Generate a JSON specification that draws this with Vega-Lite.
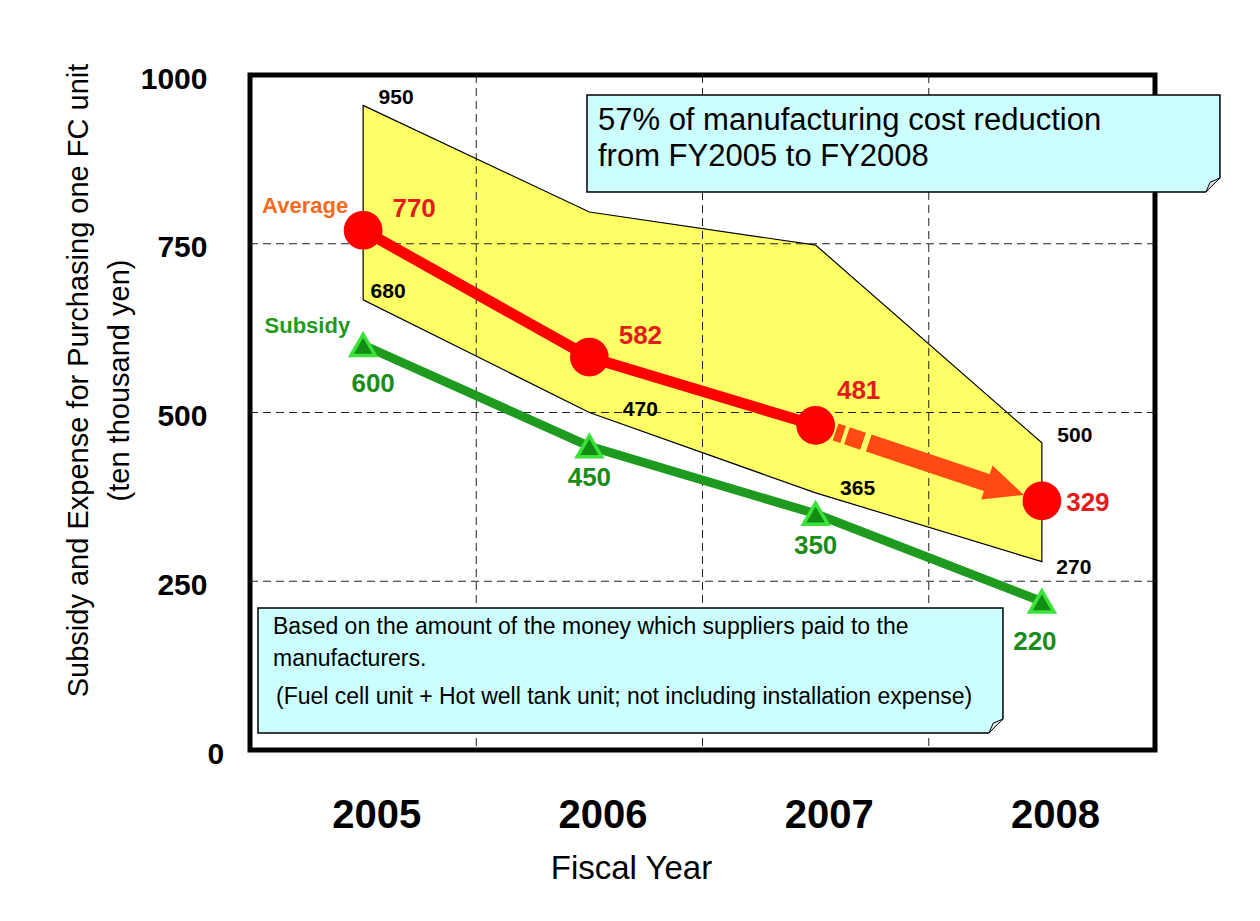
{
  "$schema": "https://vega.github.io/schema/vega-lite/v6.json",
  "width": 905,
  "height": 675,
  "autosize": {"type": "none"},
  "padding": {"left": 250, "top": 75, "right": 105, "bottom": 171},
  "background": "white",
  "config": {
    "view": {"stroke": "black", "strokeWidth": 5},
    "font": "Liberation Sans"
  },
  "data": {
    "values": [
      {"year": 2005, "avg": 770, "avg_label": "770", "sub": 600, "sub_label": "600", "hi": 955, "lo": 667, "hi_label": "950", "lo_label": "680"},
      {"year": 2006, "avg": 582, "avg_label": "582", "sub": 450, "sub_label": "450", "hi": 797, "lo": 500, "hi_label": "", "lo_label": "470"},
      {"year": 2007, "avg": 481, "avg_label": "481", "sub": 350, "sub_label": "350", "hi": 748, "lo": 381, "hi_label": "", "lo_label": "365"},
      {"year": 2008, "avg": 369, "avg_label": "329", "sub": 220, "sub_label": "220", "hi": 455, "lo": 279, "hi_label": "500", "lo_label": "270"}
    ]
  },
  "layer": [
    {
      "mark": {"type": "area", "fill": "#ffff66", "stroke": "#000000", "strokeWidth": 1.2, "opacity": 1},
      "encoding": {
        "x": {
          "field": "year", "type": "quantitative",
          "scale": {"domain": [2004.5, 2008.5], "nice": false, "zero": false},
          "axis": {
            "values": [2005, 2006, 2007, 2008], "format": "d", "title": "Fiscal Year",
            "grid": false, "domain": false, "ticks": false,
            "labelFont": "Liberation Sans",
            "labelFontSize": 40, "labelFontWeight": "bold", "labelColor": "#000000",
            "labelPadding": 65, "labelBaseline": "middle", "labelOffset": 13,
            "labelOverlap": false, "labelFlush": false,
            "titleFont": "Liberation Sans", "titleFontSize": 33, "titleFontWeight": "normal", "titleColor": "#000000",
            "titleX": 381, "titleY": 118, "titleBaseline": "middle", "titleAlign": "center"
          }
        },
        "y": {
          "field": "hi", "type": "quantitative",
          "scale": {"domain": [0, 1000], "nice": false, "zero": true},
          "axis": {
            "values": [0, 250, 500, 750, 1000], "format": "d",
            "title": ["Subsidy and Expense for Purchasing one FC unit", "(ten thousand yen)"],
            "grid": false, "domain": false, "ticks": false,
            "labelFont": "Liberation Sans", "labelFontSize": 30, "labelFontWeight": "bold", "labelColor": "#000000",
            "labelPadding": 43, "labelBaseline": "middle", "labelOffset": 4,
            "labelAlign": {"condition": {"test": "datum.value == 0", "value": "left"}, "value": "right"},
            "labelOverlap": false, "labelFlush": false,
            "titleFont": "Liberation Sans", "titleFontSize": 29, "titleFontWeight": "normal", "titleColor": "#000000",
            "titleX": -172, "titleY": 305, "titleAngle": -90, "titleAlign": "center", "titleBaseline": "middle",
            "titleLineHeight": 41
          }
        },
        "y2": {"field": "lo"}
      }
    },
    {
      "data": {"values": [{"year": 2005.5}, {"year": 2006.5}, {"year": 2007.5}]},
      "mark": {"type": "rule", "stroke": "#222222", "strokeWidth": 1, "strokeDash": [8, 5]},
      "encoding": {"x": {"field": "year", "type": "quantitative"}}
    },
    {
      "data": {"values": [{"hi": 250}, {"hi": 500}, {"hi": 750}]},
      "mark": {"type": "rule", "stroke": "#222222", "strokeWidth": 1, "strokeDash": [8, 5]},
      "encoding": {"y": {"field": "hi", "type": "quantitative"}}
    },
    {
      "data": {"values": [{}]},
      "mark": {"type": "rect", "fill": "#ccffff", "stroke": "#000000", "strokeWidth": 1.5},
      "encoding": {
        "x": {"datum": 2005.9895, "type": "quantitative"},
        "x2": {"datum": 2008.787},
        "y": {"datum": 970.37, "type": "quantitative"},
        "y2": {"datum": 826.67}
      }
    },
    {
      "data": {"values": [{}]},
      "mark": {"type": "rect", "fill": "#ccffff", "stroke": "#000000", "strokeWidth": 1.5},
      "encoding": {
        "x": {"datum": 2004.5354, "type": "quantitative"},
        "x2": {"datum": 2007.828},
        "y": {"datum": 210.37, "type": "quantitative"},
        "y2": {"datum": 25.19}
      }
    },
    {
      "data": {"values": [{"year": 2008.787, "hi": 826.67}, {"year": 2007.828, "hi": 25.19}]},
      "mark": {"type": "point", "shape": "M -1.15 0.2 L 0.2 -1.15 L 0.2 0.2 Z", "size": 784, "filled": true, "fill": "#ffffff", "strokeWidth": 0, "opacity": 1},
      "encoding": {
        "x": {"field": "year", "type": "quantitative"},
        "y": {"field": "hi", "type": "quantitative"}
      }
    },
    {
      "data": {"values": [{"year": 2008.787, "hi": 826.67}, {"year": 2007.828, "hi": 25.19}]},
      "mark": {"type": "point", "shape": "M -1 0 L 0 -1 L -0.7 -0.7 Z", "size": 784, "filled": false, "fill": "#e4e4e4", "stroke": "#000000", "strokeWidth": 1, "opacity": 1},
      "encoding": {
        "x": {"field": "year", "type": "quantitative"},
        "y": {"field": "hi", "type": "quantitative"}
      }
    },
    {
      "mark": {"type": "line", "stroke": "#1e9b1e", "strokeWidth": 9},
      "encoding": {
        "x": {"field": "year", "type": "quantitative"},
        "y": {"field": "sub", "type": "quantitative"}
      }
    },
    {
      "transform": [{"filter": "datum.year <= 2007"}],
      "mark": {"type": "line", "stroke": "#ff0000", "strokeWidth": 11},
      "encoding": {
        "x": {"field": "year", "type": "quantitative"},
        "y": {"field": "avg", "type": "quantitative"}
      }
    },
    {
      "transform": [{"filter": "datum.year >= 2007"}],
      "mark": {"type": "line", "stroke": "#ff4a14", "strokeWidth": 18, "strokeCap": "butt", "strokeDash": [0, 21, 8, 4, 17, 6, 125, 400]},
      "encoding": {
        "x": {"field": "year", "type": "quantitative"},
        "y": {"field": "avg", "type": "quantitative"}
      }
    },
    {
      "transform": [{"filter": "datum.year == 2008"}],
      "mark": {"type": "point", "shape": "M -1.9 0 L -5.8 -1.8 L -5.8 1.8 Z", "size": 400, "angle": 18.47, "filled": true, "fill": "#ff4a14", "strokeWidth": 0, "opacity": 1},
      "encoding": {
        "x": {"field": "year", "type": "quantitative"},
        "y": {"field": "avg", "type": "quantitative"}
      }
    },
    {
      "mark": {"type": "point", "shape": "triangle-up", "size": 600, "filled": false, "fill": "#128c12", "stroke": "#3ae23a", "strokeWidth": 3.5, "opacity": 1},
      "encoding": {
        "x": {"field": "year", "type": "quantitative"},
        "y": {"field": "sub", "type": "quantitative"}
      }
    },
    {
      "mark": {"type": "point", "shape": "circle", "size": 1500, "filled": true, "fill": "#ff0000", "strokeWidth": 0, "opacity": 1},
      "encoding": {
        "x": {"field": "year", "type": "quantitative"},
        "y": {"field": "avg", "type": "quantitative"}
      }
    },
    {
      "transform": [{"filter": "datum.year <= 2006"}],
      "mark": {"type": "text", "font": "Liberation Sans", "fontWeight": "bold", "fontSize": 26, "color": "#e31b1b", "align": "center", "baseline": "middle", "dx": 51, "dy": -21},
      "encoding": {
        "x": {"field": "year", "type": "quantitative"},
        "y": {"field": "avg", "type": "quantitative"},
        "text": {"field": "avg_label"}
      }
    },
    {
      "transform": [{"filter": "datum.year == 2007"}],
      "mark": {"type": "text", "font": "Liberation Sans", "fontWeight": "bold", "fontSize": 26, "color": "#e31b1b", "align": "center", "baseline": "middle", "dx": 43, "dy": -34},
      "encoding": {
        "x": {"field": "year", "type": "quantitative"},
        "y": {"field": "avg", "type": "quantitative"},
        "text": {"field": "avg_label"}
      }
    },
    {
      "transform": [{"filter": "datum.year == 2008"}],
      "mark": {"type": "text", "font": "Liberation Sans", "fontWeight": "bold", "fontSize": 26, "color": "#e31b1b", "align": "center", "baseline": "middle", "dx": 46, "dy": 2},
      "encoding": {
        "x": {"field": "year", "type": "quantitative"},
        "y": {"field": "avg", "type": "quantitative"},
        "text": {"field": "avg_label"}
      }
    },
    {
      "transform": [{"filter": "datum.year == 2005"}],
      "mark": {"type": "text", "font": "Liberation Sans", "fontWeight": "bold", "fontSize": 26, "color": "#1a8c1a", "align": "center", "baseline": "middle", "dx": 10, "dy": 39},
      "encoding": {
        "x": {"field": "year", "type": "quantitative"},
        "y": {"field": "sub", "type": "quantitative"},
        "text": {"field": "sub_label"}
      }
    },
    {
      "transform": [{"filter": "datum.year == 2006 || datum.year == 2007"}],
      "mark": {"type": "text", "font": "Liberation Sans", "fontWeight": "bold", "fontSize": 26, "color": "#1a8c1a", "align": "center", "baseline": "middle", "dx": 0, "dy": 32},
      "encoding": {
        "x": {"field": "year", "type": "quantitative"},
        "y": {"field": "sub", "type": "quantitative"},
        "text": {"field": "sub_label"}
      }
    },
    {
      "transform": [{"filter": "datum.year == 2008"}],
      "mark": {"type": "text", "font": "Liberation Sans", "fontWeight": "bold", "fontSize": 26, "color": "#1a8c1a", "align": "center", "baseline": "middle", "dx": -7, "dy": 40},
      "encoding": {
        "x": {"field": "year", "type": "quantitative"},
        "y": {"field": "sub", "type": "quantitative"},
        "text": {"field": "sub_label"}
      }
    },
    {
      "transform": [{"filter": "datum.hi_label != ''"}],
      "mark": {"type": "text", "font": "Liberation Sans", "fontWeight": "bold", "fontSize": 21, "color": "#000000", "align": "center", "baseline": "middle", "dx": 33, "dy": -7},
      "encoding": {
        "x": {"field": "year", "type": "quantitative"},
        "y": {"field": "hi", "type": "quantitative"},
        "text": {"field": "hi_label"}
      }
    },
    {
      "transform": [{"filter": "datum.year == 2005"}],
      "mark": {"type": "text", "font": "Liberation Sans", "fontWeight": "bold", "fontSize": 21, "color": "#000000", "align": "center", "baseline": "middle", "dx": 25, "dy": -8},
      "encoding": {
        "x": {"field": "year", "type": "quantitative"},
        "y": {"field": "lo", "type": "quantitative"},
        "text": {"field": "lo_label"}
      }
    },
    {
      "transform": [{"filter": "datum.year == 2006"}],
      "mark": {"type": "text", "font": "Liberation Sans", "fontWeight": "bold", "fontSize": 21, "color": "#000000", "align": "center", "baseline": "middle", "dx": 51, "dy": -3},
      "encoding": {
        "x": {"field": "year", "type": "quantitative"},
        "y": {"field": "lo", "type": "quantitative"},
        "text": {"field": "lo_label"}
      }
    },
    {
      "transform": [{"filter": "datum.year == 2007"}],
      "mark": {"type": "text", "font": "Liberation Sans", "fontWeight": "bold", "fontSize": 21, "color": "#000000", "align": "center", "baseline": "middle", "dx": 42, "dy": -4},
      "encoding": {
        "x": {"field": "year", "type": "quantitative"},
        "y": {"field": "lo", "type": "quantitative"},
        "text": {"field": "lo_label"}
      }
    },
    {
      "transform": [{"filter": "datum.year == 2008"}],
      "mark": {"type": "text", "font": "Liberation Sans", "fontWeight": "bold", "fontSize": 21, "color": "#000000", "align": "center", "baseline": "middle", "dx": 32, "dy": 6},
      "encoding": {
        "x": {"field": "year", "type": "quantitative"},
        "y": {"field": "lo", "type": "quantitative"},
        "text": {"field": "lo_label"}
      }
    },
    {
      "transform": [{"filter": "datum.year == 2005"}],
      "mark": {"type": "text", "text": "Average", "font": "Liberation Sans", "fontWeight": "bold", "fontSize": 22, "color": "#f26b21", "align": "right", "baseline": "middle", "dx": -15, "dy": -24},
      "encoding": {
        "x": {"field": "year", "type": "quantitative"},
        "y": {"field": "avg", "type": "quantitative"}
      }
    },
    {
      "transform": [{"filter": "datum.year == 2005"}],
      "mark": {"type": "text", "text": "Subsidy", "font": "Liberation Sans", "fontWeight": "bold", "fontSize": 22, "color": "#1f9a1f", "align": "right", "baseline": "middle", "dx": -13, "dy": -19},
      "encoding": {
        "x": {"field": "year", "type": "quantitative"},
        "y": {"field": "sub", "type": "quantitative"}
      }
    },
    {
      "data": {"values": [{}]},
      "mark": {"type": "text", "text": ["57% of manufacturing cost reduction", "from FY2005 to FY2008"], "font": "Liberation Sans", "fontSize": 31, "color": "#000000", "align": "left", "baseline": "middle", "lineHeight": 36},
      "encoding": {
        "x": {"datum": 2006.038, "type": "quantitative"},
        "y": {"datum": 931.85, "type": "quantitative"}
      }
    },
    {
      "data": {"values": [{}]},
      "mark": {"type": "text", "text": ["Based on the amount of the money which suppliers paid to the", "manufacturers."], "font": "Liberation Sans", "fontSize": 23, "color": "#000000", "align": "left", "baseline": "middle", "lineHeight": 32},
      "encoding": {
        "x": {"datum": 2004.6017, "type": "quantitative"},
        "y": {"datum": 182.2, "type": "quantitative"}
      }
    },
    {
      "data": {"values": [{}]},
      "mark": {"type": "text", "text": "(Fuel cell unit + Hot well tank unit; not including installation expense)", "font": "Liberation Sans", "fontSize": 23, "color": "#000000", "align": "left", "baseline": "middle"},
      "encoding": {
        "x": {"datum": 2004.615, "type": "quantitative"},
        "y": {"datum": 78.52, "type": "quantitative"}
      }
    }
  ]
}
